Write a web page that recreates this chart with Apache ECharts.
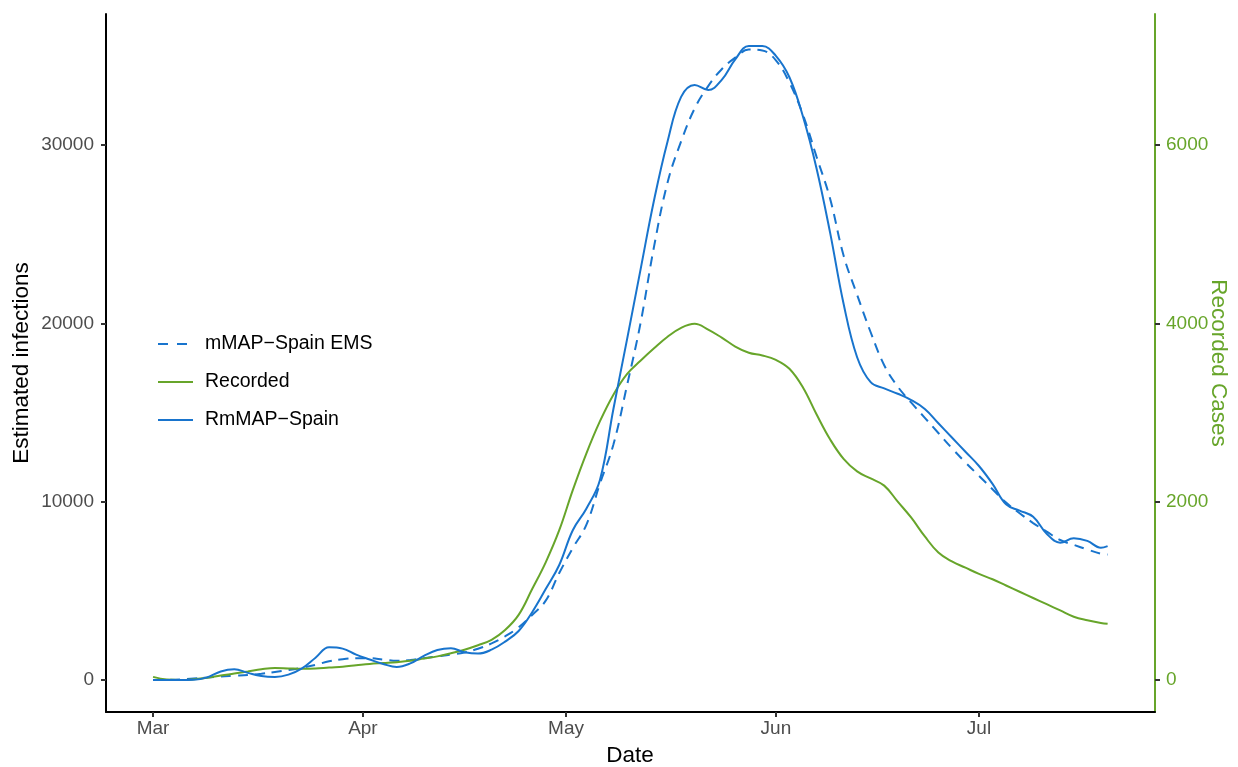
<!DOCTYPE html>
<html>
<head>
<meta charset="utf-8">
<script src="https://cdn.jsdelivr.net/npm/echarts@6/dist/echarts.min.js"></script>
<style>
  html, body { margin: 0; padding: 0; background: #ffffff; }
  #chart { width: 1238px; height: 767px; }
</style>
</head>
<body>
<div id="chart"></div>
<script>
// Sample days, counted from 1 March
const days = [
  0, 2, 4, 6, 8, 10, 12, 14, 16, 18, 20, 22, 24, 26, 28, 30, 32, 34, 36, 38,
  40, 42, 44, 46, 48, 50, 52, 54, 56, 58, 60, 62, 64, 66, 68, 70, 72, 74, 76, 78,
  80, 82, 84, 86, 88, 90, 92, 94, 96, 98, 100, 102, 104, 106, 108, 110, 112, 114, 116, 118,
  120, 122, 124, 126, 128, 130, 132, 134, 136, 138, 140, 141
];

// Month tick positions (day offsets) and their labels
const monthTickDays = [0, 31, 61, 92, 122];
const monthTickLabels = ['Mar', 'Apr', 'May', 'Jun', 'Jul'];

const infectionTicks = [0, 10000, 20000, 30000];
const caseTicks = [0, 2000, 4000, 6000];

// mMAP-Spain EMS estimated infections
const emsEstimate = [
  0, 10, 30, 80, 140, 200, 240, 280, 350, 450, 560, 690, 850, 1050, 1170, 1220, 1220, 1150, 1080, 1120,
  1220, 1320, 1420, 1540, 1750, 2050, 2450, 2950, 3650, 4450, 6000, 7400, 8700, 11000, 13200, 16500, 20000, 24300, 27900, 30200,
  32050, 33300, 34250, 34900, 35350, 35300, 34750, 33500, 31700, 29350, 27000, 23800, 21600, 19500, 17650, 16450, 15550, 14700, 13850, 13000,
  12200, 11450, 10700, 9950, 9350, 8800, 8320, 7850, 7580, 7320, 7080, 7040
];

// Recorded cases (right axis)
const recordedCases = [
  35, 5, 0, 8, 25, 50, 72, 95, 120, 135, 130, 125, 128, 140, 150, 165, 180, 190, 200, 215,
  240, 265, 300, 340, 390, 450, 560, 730, 1020, 1320, 1680, 2130, 2540, 2900, 3200, 3430, 3580, 3720, 3850, 3950,
  3995, 3930, 3840, 3740, 3670, 3640, 3590, 3490, 3280, 2980, 2700, 2480, 2340, 2260, 2180, 2000, 1820, 1610, 1430, 1330,
  1260, 1190, 1130, 1060, 990, 920, 850, 780, 710, 670, 640, 630
];

// RmMAP-Spain estimated infections
const rmmapEstimate = [
  0, 0, 0, 10, 150, 480, 600, 400, 220, 170, 300, 650, 1250, 1830, 1760, 1420, 1150, 900, 730, 930,
  1350, 1680, 1780, 1560, 1480, 1700, 2150, 2750, 3800, 5100, 6450, 8400, 9600, 11200, 15200, 19070, 23000, 26900, 30200, 32700,
  33370, 33080, 33650, 34800, 35550, 35550, 35000, 33800, 31600, 28700, 25100, 21100, 18100, 16700, 16350, 16050, 15700, 15200, 14400, 13600,
  12800, 12000, 11000, 9850, 9500, 9150, 8200, 7700, 7950, 7800, 7420, 7510
];

const BLUE = '#1874CD';
const GREEN = '#67A52A';
const FONT = 'Liberation Sans, Arial, sans-serif';

const pairs = (vals) => days.map((d, i) => [d, vals[i]]);

const chart = echarts.init(document.getElementById('chart'), null, { renderer: 'canvas' });

chart.setOption({
  animation: false,
  backgroundColor: '#ffffff',
  textStyle: { fontFamily: FONT },
  grid: { left: 106, right: 83, top: 14, bottom: 55 },
  xAxis: {
    type: 'value',
    min: -6.95,
    max: 148,
    axisLine: { show: true, onZero: false, lineStyle: { color: '#000000', width: 2 } },
    axisTick: { show: true, customValues: monthTickDays, length: 5, lineStyle: { color: '#333333', width: 2 } },
    axisLabel: {
      customValues: monthTickDays,
      formatter: (v) => monthTickLabels[monthTickDays.indexOf(v)],
      color: '#4d4d4d', fontSize: 19, fontFamily: FONT, margin: 7
    },
    splitLine: { show: false }
  },
  yAxis: [
    {
      type: 'value',
      position: 'left',
      min: -1794,
      max: 37346,
      axisLine: { show: true, onZero: false, lineStyle: { color: '#000000', width: 2 } },
      axisTick: { show: true, customValues: infectionTicks, length: 5, lineStyle: { color: '#333333', width: 2 } },
      axisLabel: {
        customValues: infectionTicks,
        formatter: (v) => String(v),
        color: '#4d4d4d', fontSize: 19, fontFamily: FONT, margin: 12
      },
      splitLine: { show: false }
    },
    {
      type: 'value',
      position: 'right',
      min: -358.8,
      max: 7469.2,
      axisLine: { show: true, onZero: false, lineStyle: { color: GREEN, width: 2 } },
      axisTick: { show: true, customValues: caseTicks, length: 5, lineStyle: { color: '#333333', width: 2 } },
      axisLabel: {
        customValues: caseTicks,
        formatter: (v) => String(v),
        color: GREEN, fontSize: 19, fontFamily: FONT, margin: 11
      },
      splitLine: { show: false }
    }
  ],
  legend: {
    orient: 'vertical',
    left: 152,
    top: 329,
    itemWidth: 35,
    itemHeight: 20,
    itemGap: 18,
    itemStyle: { opacity: 0 },
    textStyle: { fontSize: 19.5, color: '#000000', fontFamily: FONT, padding: [0, 0, 0, 7] },
    data: [
      { name: 'mMAP−Spain EMS', lineStyle: { type: [10, 9] } },
      'Recorded',
      'RmMAP−Spain'
    ]
  },
  series: [
    {
      name: 'mMAP−Spain EMS',
      type: 'line',
      yAxisIndex: 0,
      data: pairs(emsEstimate),
      symbol: 'none',
      smooth: 0.4,
      lineStyle: { color: BLUE, width: 2, type: [10, 7] },
      itemStyle: { color: BLUE }
    },
    {
      name: 'Recorded',
      type: 'line',
      yAxisIndex: 1,
      data: pairs(recordedCases),
      symbol: 'none',
      smooth: 0.4,
      lineStyle: { color: GREEN, width: 2 },
      itemStyle: { color: GREEN }
    },
    {
      name: 'RmMAP−Spain',
      type: 'line',
      yAxisIndex: 0,
      data: pairs(rmmapEstimate),
      symbol: 'none',
      smooth: 0.4,
      lineStyle: { color: BLUE, width: 2 },
      itemStyle: { color: BLUE }
    }
  ],
  graphic: [
    {
      type: 'text', x: 22, y: 363, rotation: Math.PI / 2,
      style: { text: 'Estimated infections', fontSize: 22.5, fontFamily: FONT, fill: '#000000', align: 'center', verticalAlign: 'middle' }
    },
    {
      type: 'text', x: 1218, y: 363, rotation: -Math.PI / 2,
      style: { text: 'Recorded Cases', fontSize: 22.5, fontFamily: FONT, fill: GREEN, align: 'center', verticalAlign: 'middle' }
    },
    {
      type: 'text', x: 630, y: 756,
      style: { text: 'Date', fontSize: 22.5, fontFamily: FONT, fill: '#000000', align: 'center', verticalAlign: 'middle' }
    }
  ]
});
</script>
</body>
</html>
